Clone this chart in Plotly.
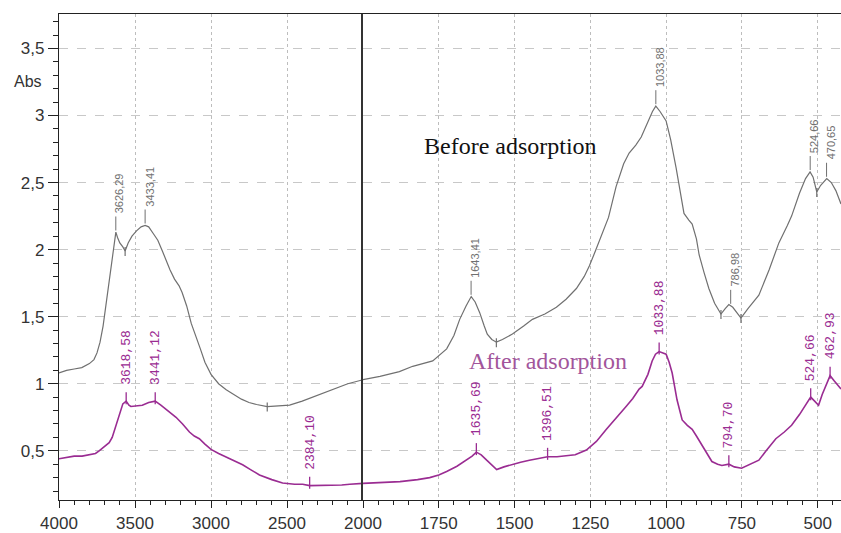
import numpy as np
import plotly.graph_objects as go

# ---------------- data (wavenumber cm-1, absorbance) ----------------
before_wn = [4000, 3950, 3900, 3850, 3800, 3770, 3750, 3730, 3710, 3690, 3670, 3650, 3637, 3626,
             3615, 3600, 3580, 3565, 3545, 3520, 3490, 3460, 3433, 3410, 3380, 3350, 3320, 3300,
             3270, 3240, 3210, 3190, 3160, 3130, 3100, 3070, 3040, 3000, 2950, 2900, 2850, 2800,
             2750, 2700, 2630, 2550, 2483, 2400, 2305, 2200, 2100, 2000,
             1944, 1880, 1836, 1770, 1724, 1700, 1681, 1660, 1643, 1630, 1615, 1600, 1590, 1575,
             1560, 1540, 1507, 1470, 1441, 1400, 1362, 1330, 1296, 1270, 1253, 1235, 1214, 1190,
             1165, 1140, 1122, 1100, 1082, 1060, 1045, 1034, 1020, 1000, 985, 967, 950, 941, 925,
             914, 900, 891, 875, 859, 840, 819, 805, 793, 780, 765, 753, 730, 694, 660, 628, 600,
             586, 560, 540, 525, 515, 503, 490, 470, 455, 440, 423]
before_abs = [1.08, 1.10, 1.11, 1.12, 1.15, 1.18, 1.23, 1.31, 1.43, 1.60, 1.76, 1.93, 2.05, 2.13,
              2.09, 2.05, 2.02, 1.99, 2.05, 2.10, 2.14, 2.17, 2.18, 2.17, 2.12, 2.07, 1.99, 1.93,
              1.85, 1.78, 1.73, 1.68, 1.58, 1.45, 1.36, 1.26, 1.16, 1.07, 1.00, 0.955, 0.92, 0.885,
              0.86, 0.845, 0.83, 0.835, 0.84, 0.87, 0.91, 0.96, 1.00, 1.03,
              1.055, 1.09, 1.13, 1.17, 1.26, 1.36, 1.48, 1.58, 1.65, 1.61, 1.53, 1.43, 1.37, 1.33,
              1.31, 1.33, 1.37, 1.43, 1.48, 1.52, 1.57, 1.63, 1.71, 1.80, 1.88, 1.98, 2.10, 2.24,
              2.47, 2.64, 2.72, 2.78, 2.84, 2.95, 3.03, 3.07, 3.03, 2.96, 2.82, 2.61, 2.38, 2.27, 2.22,
              2.19, 2.08, 1.96, 1.83, 1.71, 1.60, 1.52, 1.56, 1.59, 1.57, 1.52, 1.49, 1.56, 1.66, 1.85,
              2.05, 2.18, 2.25, 2.42, 2.53, 2.58, 2.54, 2.43, 2.48, 2.53, 2.50, 2.44, 2.34]

after_wn = [4000, 3950, 3900, 3848, 3800, 3760, 3736, 3700, 3670, 3650, 3624, 3600, 3580, 3558,
            3540, 3527, 3490, 3452, 3410, 3367, 3330, 3296, 3260, 3230, 3187, 3142, 3110, 3077,
            3040, 3000, 2950, 2901, 2850, 2792, 2740, 2681, 2600, 2529, 2450, 2397, 2351, 2300,
            2250, 2199, 2140, 2087, 2040, 2000,
            1940, 1878, 1820, 1780, 1750, 1724, 1690, 1658, 1640, 1626, 1610, 1592, 1575, 1559,
            1535, 1507, 1480, 1451, 1420, 1391, 1360, 1329, 1300, 1263, 1230, 1197, 1165, 1132,
            1110, 1089, 1079, 1060, 1046, 1035, 1023, 1000, 990, 980, 972, 964, 955, 947, 930,
            914, 900, 881, 865, 849, 830, 816, 793, 775, 751, 730, 710, 694, 670, 638, 610, 586,
            560, 540, 523, 510, 497, 485, 474, 459, 445, 428, 423]
after_abs = [0.44, 0.45, 0.46, 0.46, 0.47, 0.48, 0.50, 0.53, 0.56, 0.60, 0.69, 0.79, 0.85, 0.87,
             0.84, 0.83, 0.835, 0.84, 0.86, 0.87, 0.84, 0.81, 0.78, 0.75, 0.70, 0.64, 0.61, 0.59,
             0.55, 0.51, 0.48, 0.455, 0.43, 0.396, 0.36, 0.32, 0.285, 0.26, 0.25, 0.25, 0.24, 0.24,
             0.24, 0.24, 0.245, 0.25, 0.255, 0.257,
             0.262, 0.27, 0.285, 0.30, 0.32, 0.345, 0.385, 0.43, 0.46, 0.49, 0.47, 0.43, 0.39, 0.36,
             0.38, 0.40, 0.415, 0.43, 0.445, 0.455, 0.455, 0.46, 0.47, 0.505, 0.57, 0.66, 0.74, 0.83,
             0.89, 0.96, 0.98, 1.07, 1.17, 1.22, 1.24, 1.22, 1.16, 1.08, 0.98, 0.88, 0.80, 0.73, 0.69,
             0.66, 0.61, 0.54, 0.48, 0.42, 0.40, 0.39, 0.40, 0.38, 0.37, 0.39, 0.41, 0.43, 0.50, 0.59,
             0.64, 0.69, 0.77, 0.84, 0.90, 0.87, 0.84, 0.92, 0.98, 1.06, 1.02, 0.97, 0.96]

before_peak_labels = ["3626,29", "3433,41", "1643,41", "1033,88", "786,98", "524,66", "470,65"]
before_dips = [3565, 2630, 1560, 819, 753, 503]
after_peak_pos = [3558, 3367, 2351, 1626, 1391, 1023, 793, 523, 459]
after_peak_labels = ["3618,58", "3441,12", "2384,10", "1635,69", "1396,51", "1033,88",
                     "794,70", "524,66", "462,93"]

left_ticks = [4000, 3500, 3000, 2500]
right_ticks = [2000, 1750, 1500, 1250, 1000, 750, 500]
y_ticks = [0.5, 1, 1.5, 2, 2.5, 3, 3.5]
y_ticktext = ["0,5", "1", "1,5", "2", "2,5", "3", "3,5"]

# ---------------- style ----------------
GRAY = "#707070"
PURPLE = "#9a2c92"
PURPLE_TXT = "#a2559b"
AX = "#222222"
SPLIT = 2000.0
D = (363 - 59) / 782.0


def split(wn, ab):
    wn = np.asarray(wn, float)
    ab = np.asarray(ab, float)
    l = wn >= SPLIT
    r = wn <= SPLIT
    return (wn[l], ab[l]), (wn[r], ab[r])


def interp(wn, ab, x):
    wn = np.asarray(wn, float)[::-1]
    ab = np.asarray(ab, float)[::-1]
    return float(np.interp(x, wn, ab))


def xref_for(w):
    return "x" if w > SPLIT else "x2"


fig = go.Figure()
for wn, ab, col, lw in [(before_wn, before_abs, GRAY, 1.2), (after_wn, after_abs, PURPLE, 1.6)]:
    (lx, ly), (rx, ry) = split(wn, ab)
    fig.add_trace(go.Scatter(x=lx, y=ly, mode="lines", line=dict(color=col, width=lw),
                             xaxis="x", yaxis="y", hoverinfo="skip"))
    fig.add_trace(go.Scatter(x=rx, y=ry, mode="lines", line=dict(color=col, width=lw),
                             xaxis="x2", yaxis="y2", hoverinfo="skip"))

shapes = []
annotations = []

# before-adsorption peak labels
for lab in before_peak_labels:
    w = float(lab.replace(",", "."))
    v = interp(before_wn, before_abs, w)
    xr = xref_for(w)
    shapes.append(dict(type="line", xref=xr, yref="y", ysizemode="pixel", yanchor=v,
                       x0=w, x1=w, y0=2, y1=16, line=dict(color=GRAY, width=1)))
    annotations.append(dict(text=lab, x=w, y=v, xref=xr, yref="y", showarrow=False,
                            textangle=-90, xanchor="center", yanchor="bottom", yshift=17,
                            xshift=4,
                            font=dict(family="Liberation Sans Narrow, Liberation Sans, Arial",
                                      size=11, color=GRAY)))
for w in before_dips:
    v = interp(before_wn, before_abs, w)
    shapes.append(dict(type="line", xref=xref_for(w), yref="y", ysizemode="pixel", yanchor=v,
                       x0=w, x1=w, y0=-5, y1=4, line=dict(color=GRAY, width=1.2)))

# after-adsorption peak labels
for w, lab in zip(after_peak_pos, after_peak_labels):
    v = interp(after_wn, after_abs, w)
    xr = xref_for(w)
    shapes.append(dict(type="line", xref=xr, yref="y", ysizemode="pixel", yanchor=v,
                       x0=w, x1=w, y0=-3, y1=9, line=dict(color=PURPLE, width=1.3)))
    annotations.append(dict(text=lab, x=w, y=v, xref=xr, yref="y", showarrow=False,
                            textangle=-90, xanchor="center", yanchor="bottom", yshift=14,
                            font=dict(family="Liberation Mono, DejaVu Sans Mono", size=13,
                                      color=PURPLE)))

annotations.append(dict(text="Before adsorption", x=1512, y=2.77, xref="x2", yref="y",
                        showarrow=False, xanchor="center", yanchor="middle",
                        font=dict(family="Liberation Serif, Times New Roman", size=24,
                                  color="#111111")))
annotations.append(dict(text="After adsorption", x=1390, y=1.17, xref="x2", yref="y",
                        showarrow=False, xanchor="center", yanchor="middle",
                        font=dict(family="Liberation Serif, Times New Roman", size=24,
                                  color=PURPLE_TXT)))
annotations.append(dict(text="Abs", x=-0.04, y=3.25, xref="paper", yref="y", showarrow=False,
                        xanchor="center", yanchor="middle",
                        font=dict(family="Liberation Sans, Arial", size=16, color="#333333")))

tickfont = dict(family="Liberation Sans, Arial", size=17, color="#333333")
xcommon = dict(showgrid=True, griddash="dot", gridcolor="#bdbdbd", gridwidth=1,
               showline=True, linecolor=AX, linewidth=1.2, mirror=True,
               ticks="outside", ticklen=7, tickcolor=AX, zeroline=False, tickfont=tickfont)

fig.update_layout(
    width=841, height=533,
    margin=dict(l=59, r=0, t=14, b=25),
    paper_bgcolor="white", plot_bgcolor="white",
    showlegend=False,
    xaxis=dict(domain=[0, D], range=[4000, SPLIT], tickvals=left_ticks, anchor="y",
               minor=dict(dtick=100, tick0=0, ticks="outside", ticklen=4, tickcolor=AX,
                          showgrid=False),
               **xcommon),
    xaxis2=dict(domain=[D, 1], range=[SPLIT, 423], tickvals=right_ticks, anchor="y2",
                minor=dict(dtick=50, tick0=0, ticks="outside", ticklen=4, tickcolor=AX,
                           showgrid=False),
                **xcommon),
    yaxis=dict(domain=[0, 1], range=[0.133, 3.757], anchor="x", tickvals=y_ticks,
               ticktext=y_ticktext, showgrid=True, griddash="dash", gridcolor="#c8c8c8",
               showline=True, linecolor=AX, linewidth=1.2, ticks="outside", ticklen=10,
               tickcolor=AX, zeroline=False, tickfont=tickfont,
               minor=dict(dtick=0.1, tick0=0, ticks="outside", ticklen=5, tickcolor=AX,
                          showgrid=False)),
    yaxis2=dict(domain=[0, 1], matches="y", anchor="x2", tickvals=y_ticks,
                showticklabels=False, ticks="", showgrid=True, griddash="dash",
                gridcolor="#c8c8c8", showline=True, linecolor="#333333", linewidth=1.5,
                zeroline=False),
    shapes=shapes,
    annotations=annotations,
)

fig.write_html("out.html")
